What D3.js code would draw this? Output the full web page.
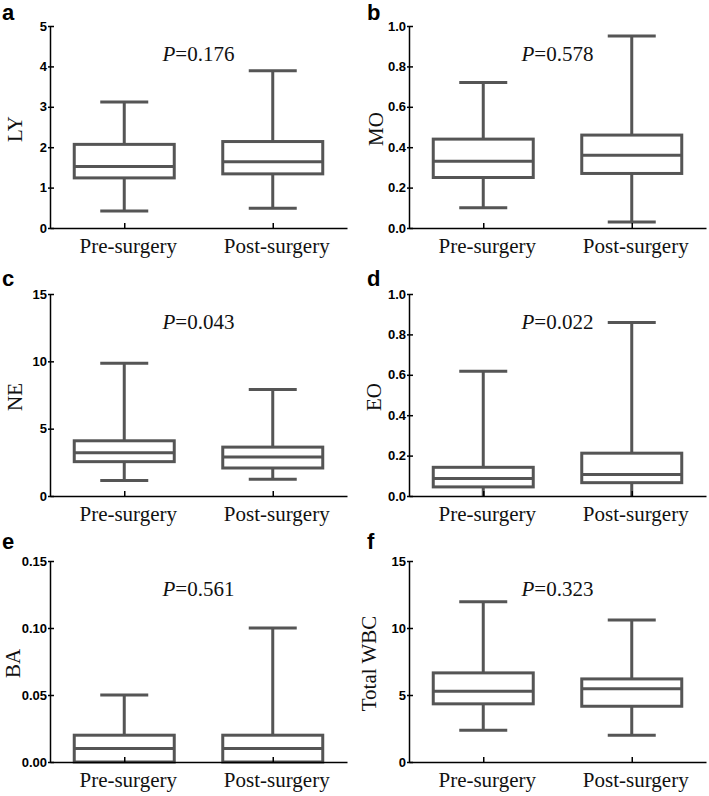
<!DOCTYPE html>
<html>
<head>
<meta charset="utf-8">
<script src="https://cdn.jsdelivr.net/npm/d3@7"></script>
<style>
  body { margin: 0; background: #fff; }
  svg { display: block; }
  .serif { font-family: "Liberation Serif", "Times New Roman", serif; fill: #111; }
</style>
</head>
<body>
<svg width="709" height="796"></svg>
<script>
// panel data
const panelLetters = ["a", "b", "c", "d", "e", "f"];
const yLabels = ["LY", "MO", "NE", "EO", "BA", "Total WBC"];
const pValues = ["0.176", "0.578", "0.043", "0.022", "0.561", "0.323"];
const groups = ["Pre-surgery", "Post-surgery"];
const yMax = [5, 1.0, 15, 1.0, 0.15, 15];
const yTicks = [
  [0, 1, 2, 3, 4, 5],
  [0, 0.2, 0.4, 0.6, 0.8, 1.0],
  [0, 5, 10, 15],
  [0, 0.2, 0.4, 0.6, 0.8, 1.0],
  [0, 0.05, 0.10, 0.15],
  [0, 5, 10, 15]
];
const tickFormats = ["d", ".1f", "d", ".1f", ".2f", "d"];
// [min, q1, median, q3, max]
const preStats = [
  [0.42, 1.24, 1.52, 2.07, 3.12],
  [0.10, 0.25, 0.33, 0.44, 0.72],
  [1.15, 2.55, 3.22, 4.1, 9.85],
  [0.0, 0.045, 0.087, 0.142, 0.617],
  [0.0, 0.0, 0.01, 0.02, 0.05],
  [2.37, 4.34, 5.28, 6.65, 11.95]
];
const postStats = [
  [0.49, 1.34, 1.64, 2.14, 3.89],
  [0.03, 0.27, 0.36, 0.46, 0.95],
  [1.25, 2.08, 2.9, 3.63, 7.9],
  [0.0, 0.066, 0.106, 0.212, 0.859],
  [0.0, 0.0, 0.01, 0.02, 0.10],
  [1.99, 4.16, 5.46, 6.2, 10.6]
];

// layout
const colX = [50, 409];
const rowTop = [26, 294, 561];
const rowBottom = [228, 496, 762];
const letterBaseline = [20, 286, 549];
const labelOffset = [-35, -33, -35, -35, -37, -40];
const plotW = 297;
const boxW = 100;
const capW = 48;
const boxColor = "#555";

const svg = d3.select("svg");

panelLetters.forEach((letter, i) =>
{
  const col = i % 2;
  const row = Math.floor(i / 2);
  const x0 = colX[col];
  const top = rowTop[row];
  const bottom = rowBottom[row];

  const xScale = d3.scalePoint().domain(groups).range([x0, x0 + plotW]).padding(0.5);
  const yScale = d3.scaleLinear().domain([0, yMax[i]]).range([bottom, top]);

  const g = svg.append("g");

  // boxes
  [preStats[i], postStats[i]].forEach((s, k) =>
  {
    const cx = xScale(groups[k]);
    const bg = g.append("g")
      .attr("stroke", boxColor)
      .attr("stroke-width", 3)
      .attr("fill", "none");
    bg.append("line")
      .attr("x1", cx).attr("x2", cx)
      .attr("y1", yScale(s[0])).attr("y2", yScale(s[1]));
    bg.append("line")
      .attr("x1", cx).attr("x2", cx)
      .attr("y1", yScale(s[3])).attr("y2", yScale(s[4]));
    [s[0], s[4]].filter((v) => v > 0).forEach((v) =>
    {
      bg.append("line")
        .attr("x1", cx - capW / 2).attr("x2", cx + capW / 2)
        .attr("y1", yScale(v)).attr("y2", yScale(v));
    });
    bg.append("rect")
      .attr("x", cx - boxW / 2)
      .attr("y", yScale(s[3]))
      .attr("width", boxW)
      .attr("height", yScale(s[1]) - yScale(s[3]))
      .attr("fill", "#fff");
    bg.append("line")
      .attr("x1", cx - boxW / 2).attr("x2", cx + boxW / 2)
      .attr("y1", yScale(s[2])).attr("y2", yScale(s[2]));
  });

  // y axis
  const yAxis = g.append("g")
    .attr("transform", `translate(${ x0 },0)`)
    .call(d3.axisLeft(yScale)
      .tickValues(yTicks[i])
      .tickFormat(d3.format(tickFormats[i]))
      .tickSize(2)
      .tickSizeOuter(0)
      .tickPadding(1));
  yAxis.attr("font-family", "Liberation Sans, Arial, sans-serif")
    .attr("font-size", 13)
    .attr("font-weight", "bold");
  yAxis.selectAll(".tick text").attr("fill", "#000");
  yAxis.select(".domain").attr("stroke", "#000").attr("stroke-width", 1.5);
  yAxis.selectAll(".tick line").attr("x1", -2).attr("x2", 4).attr("stroke-width", 1.5);

  // x axis
  const xAxis = g.append("g")
    .attr("transform", `translate(0,${ bottom })`)
    .call(d3.axisBottom(xScale).tickSize(-5).tickSizeOuter(0).tickFormat(""));
  xAxis.select(".domain").attr("stroke", "#000").attr("stroke-width", 1.5);
  xAxis.selectAll(".tick line").attr("stroke-width", 1.5);

  groups.forEach((name) =>
  {
    g.append("text")
      .attr("class", "serif")
      .attr("x", xScale(name) + 4)
      .attr("y", bottom + 25)
      .attr("text-anchor", "middle")
      .attr("font-size", 21)
      .text(name);
  });

  // y label
  const midY = (top + bottom) / 2 + 2;
  g.append("text")
    .attr("class", "serif")
    .attr("transform", `translate(${ x0 + labelOffset[i] + 7 },${ midY }) rotate(-90)`)
    .attr("text-anchor", "middle")
    .attr("font-size", 21)
    .text(yLabels[i]);

  // P value
  const pText = g.append("text")
    .attr("class", "serif")
    .attr("x", x0 + plotW / 2)
    .attr("y", top + 35)
    .attr("text-anchor", "middle")
    .attr("font-size", 21);
  pText.append("tspan").attr("font-style", "italic").text("P");
  pText.append("tspan").text("=" + pValues[i]);

  // panel letter
  g.append("text")
    .attr("x", col === 0 ? 2 : 367)
    .attr("y", letterBaseline[row])
    .attr("font-family", "Liberation Sans, Arial, sans-serif")
    .attr("font-weight", "bold")
    .attr("font-size", 22)
    .attr("fill", "#000")
    .text(letter);
});
</script>
</body>
</html>
